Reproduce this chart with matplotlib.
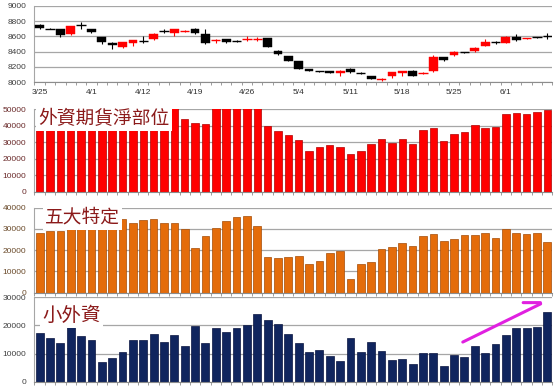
import numpy as np
import matplotlib
matplotlib.use("Agg")
import matplotlib.pyplot as plt
from matplotlib.ticker import FixedLocator

plt.rcParams['font.family'] = ['Liberation Sans', 'Noto Sans CJK TC', 'DejaVu Sans']

# 交易日 (只標示每5日)
tick_idx = [0, 5, 10, 15, 20, 25, 30, 35, 40, 45]
tick_lbl = ['3/25', '4/1', '4/12', '4/19', '4/26', '5/4', '5/11', '5/18', '5/25', '6/1']

# 加權指數 K 線
opens = [8745, 8700, 8690, 8630, 8750, 8690, 8585, 8515, 8455, 8510,
         8540, 8560, 8670, 8640, 8665, 8694, 8637, 8555, 8560, 8545,
         8560, 8562, 8572, 8410, 8341, 8275, 8170, 8146, 8144, 8113,
         8166, 8115, 8079, 8030, 8079, 8113, 8148, 8120, 8140, 8323,
         8349, 8391, 8406, 8476, 8526, 8515, 8594, 8570, 8586, 8604]
closes = [8710, 8695, 8620, 8730, 8745, 8655, 8520, 8485, 8525, 8550,
          8535, 8635, 8665, 8690, 8670, 8640, 8507, 8560, 8525, 8540,
          8565, 8565, 8463, 8367, 8280, 8170, 8144, 8142, 8122, 8148,
          8127, 8111, 8044, 8045, 8131, 8144, 8079, 8124, 8323, 8288,
          8393, 8388, 8450, 8528, 8523, 8594, 8550, 8574, 8584, 8602]
highs = [8760, 8705, 8700, 8740, 8790, 8700, 8590, 8520, 8530, 8555,
         8600, 8640, 8690, 8695, 8680, 8710, 8690, 8570, 8565, 8550,
         8610, 8590, 8580, 8415, 8345, 8280, 8175, 8150, 8150, 8152,
         8180, 8135, 8085, 8060, 8135, 8150, 8155, 8130, 8354, 8330,
         8405, 8395, 8455, 8560, 8540, 8600, 8625, 8580, 8595, 8650]
lows = [8700, 8690, 8585, 8620, 8700, 8640, 8505, 8440, 8450, 8470,
        8515, 8555, 8650, 8610, 8660, 8630, 8500, 8515, 8515, 8520,
        8545, 8545, 8460, 8360, 8275, 8165, 8140, 8130, 8115, 8079,
        8120, 8100, 8040, 8020, 8060, 8075, 8075, 8105, 8135, 8280,
        8345, 8380, 8400, 8470, 8505, 8510, 8545, 8560, 8575, 8560]

# 外資期貨淨部位
foreign_fut = [46000, 45000, 45500, 46000, 45000, 45500, 46500, 46000, 45000, 45500,
               46000, 46500, 47000, 51000, 43700, 41300, 40700, 52000, 53000, 54000,
               53500, 52500, 39700, 36900, 34100, 31500, 24600, 26800, 28400, 27200,
               22800, 24600, 28800, 31800, 29200, 31800, 28800, 37500, 38300, 30600,
               35100, 36100, 40100, 38700, 39100, 46800, 47600, 47200, 48200, 49400]

# 五大特定
top5 = [27900, 29000, 29000, 30500, 31000, 31500, 31000, 32000, 34700, 32900,
        34000, 34500, 32900, 32600, 30100, 21200, 26700, 30600, 33700, 35600,
        36200, 31200, 16900, 16200, 16600, 17300, 13700, 14900, 18700, 19800,
        6600, 13300, 14300, 20700, 21300, 23200, 22100, 26700, 27500, 24500,
        25300, 27100, 27000, 28200, 25700, 29800, 27900, 27600, 28200, 23800]

# 小外資
small_foreign = [17200, 15400, 13600, 19600, 16200, 14700, 7100, 8400, 10700, 14800,
                 14700, 17000, 14000, 16700, 12700, 19800, 13600, 19000, 17800, 19000,
                 20000, 24000, 22100, 20600, 16800, 13600, 10400, 11300, 9200, 7500,
                 15600, 10700, 14000, 10900, 7700, 7900, 6200, 10300, 10300, 5600,
                 9400, 8700, 12700, 10300, 13300, 16600, 19000, 19000, 19300, 24900]

n = len(opens)
x = np.arange(n)

fig = plt.figure(figsize=(5.6, 3.89), dpi=100)
L, W = 0.0616, 0.925
ax0 = fig.add_axes([L, 0.789, W, 0.196])
ax1 = fig.add_axes([L, 0.507, W, 0.2126])
ax2 = fig.add_axes([L, 0.2476, W, 0.2185])
ax3 = fig.add_axes([L, 0.0188, W, 0.217])

grid_c = '#a6a6a6'
for ax in (ax0, ax1, ax2, ax3):
    ax.set_xlim(-0.5, n - 0.5)
    for s in ('top', 'right'):
        ax.spines[s].set_visible(False)
    ax.spines['left'].set_color(grid_c)
    ax.spines['bottom'].set_color('#8c8c8c')
    ax.yaxis.grid(True, color=grid_c, lw=0.9)
    ax.set_axisbelow(True)
    ax.tick_params(axis='y', length=0, pad=6, labelsize=6, labelcolor='#404040')
    ax.xaxis.set_minor_locator(FixedLocator(np.arange(-0.5, n, 1)))
    ax.tick_params(axis='x', which='minor', length=2.5, color='#8c8c8c')
    ax.set_xticks([])

# K 線
for i in x:
    up = closes[i] >= opens[i]
    c = '#ff0000' if up else '#000000'
    ax0.vlines(i, lows[i], highs[i], color=c, lw=0.8, zorder=2)
    lo, hi = min(opens[i], closes[i]), max(opens[i], closes[i])
    if hi - lo < 8:
        ax0.hlines((lo + hi) / 2, i - 0.45, i + 0.45, color=c, lw=1.0, zorder=3)
    else:
        ax0.bar(i, hi - lo, bottom=lo, width=0.85, color=c, edgecolor=c, lw=0.3, zorder=3)
ax0.set_ylim(8000, 9000)
ax0.set_yticks(range(8000, 9001, 200))
ax0.set_xticks(tick_idx)
ax0.set_xticklabels(tick_lbl)
ax0.tick_params(axis='x', which='major', length=0, pad=5, labelsize=6, labelcolor='#303030')

# 外資期貨淨部位
ax1.bar(x, foreign_fut, width=0.72, color='#ff0000', edgecolor='#b00000', lw=0.5)
ax1.set_ylim(0, 50000)
ax1.set_yticks(range(0, 50001, 10000))
ax1.tick_params(axis='y', labelcolor='#6a2a2a')

# 五大特定
ax2.bar(x, top5, width=0.74, color='#e46c0a', edgecolor='#a44c06', lw=0.5)
ax2.set_ylim(0, 40000)
ax2.set_yticks(range(0, 40001, 10000))
ax2.tick_params(axis='y', labelcolor='#6a4a2a')

# 小外資
ax3.bar(x, small_foreign, width=0.76, color='#10255e', edgecolor='#0a1540', lw=0.5)
ax3.set_ylim(0, 30000)
ax3.set_yticks(range(0, 30001, 10000))

title_c = '#8b1a1a'
box = dict(boxstyle='square,pad=0.12', fc='white', ec='none')
ax1.text(0.007, 0.89, '外資期貨淨部位', transform=ax1.transAxes, ha='left', va='center',
         fontsize=13.5, color=title_c, family=['Noto Sans CJK TC'], bbox=box, zorder=5)
ax2.text(0.02, 0.885, '五大特定', transform=ax2.transAxes, ha='left', va='center',
         fontsize=13.5, color=title_c, family=['Noto Sans CJK TC'], bbox=box, zorder=5)
ax3.text(0.0145, 0.79, '小外資', transform=ax3.transAxes, ha='left', va='center',
         fontsize=14, color=title_c, family=['Noto Sans CJK TC'], bbox=box, zorder=5)

# 趨勢箭頭
arrow_c = '#e020e0'
ax3.annotate('', xy=(48.6, 28100), xytext=(40.6, 13650),
             arrowprops=dict(arrowstyle='-', color=arrow_c, lw=2.2))
ax3.annotate('', xy=(48.6, 28100), xytext=(46.4, 28100),
             arrowprops=dict(arrowstyle='-', color=arrow_c, lw=2.2))

fig.savefig('out.png', dpi=100, facecolor='white')
